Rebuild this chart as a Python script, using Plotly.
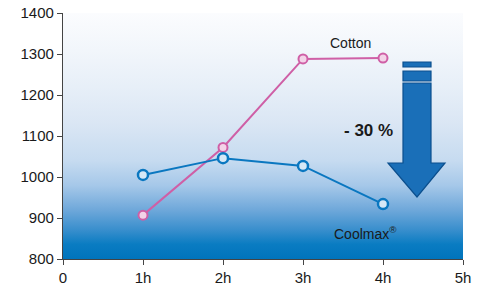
import plotly.graph_objects as go

hours = [1, 2, 3, 4]
cotton = [907, 1072, 1288, 1290]
coolmax = [1005, 1046, 1027, 934]
x_tickvals = [0, 1, 2, 3, 4, 5]
x_ticktext = ["0", "1h", "2h", "3h", "4h", "5h"]
y_tickvals = [800, 900, 1000, 1100, 1200, 1300, 1400]

fig = go.Figure()

# gradient background
fig.add_trace(go.Scatter(
    x=[0, 5, 5, 0, 0], y=[800, 800, 1400, 1400, 800],
    fill="toself", mode="none", hoverinfo="skip", showlegend=False,
    fillgradient=dict(type="vertical", colorscale=[
        [0.0, "#0074bc"], [0.06, "#0a7cc2"], [0.12, "#3a8fcd"], [0.2, "#6fa8da"],
        [0.3, "#a6c8e9"], [0.4, "#c6dbf0"], [0.55, "#dae6f4"], [0.7, "#e7eff8"],
        [0.85, "#f2f6fb"], [1.0, "#fbfcfe"]]),
))

fig.add_trace(go.Scatter(
    x=hours, y=cotton, mode="lines+markers", showlegend=False,
    line=dict(color="#cf5fa6", width=2),
    marker=dict(size=9, color="#f3d3e8", line=dict(color="#cf5fa6", width=2)),
))
fig.add_trace(go.Scatter(
    x=hours, y=coolmax, mode="lines+markers", showlegend=False,
    line=dict(color="#0a77c0", width=2),
    marker=dict(size=10, color="#d6e8f6", line=dict(color="#0a77c0", width=2.5)),
))

# arrow (data coordinates)
def px2x(p):
    return (p - 63) / 80.0

def py2y(p):
    return 1400 - (p - 13) / 0.41

arrow_fill = "#1a6fb8"
arrow_line = "#0b4f8e"
for (y0, y1) in [(62, 67), (71, 81)]:
    fig.add_shape(type="rect", x0=px2x(403), x1=px2x(431), y0=py2y(y1), y1=py2y(y0),
                  fillcolor=arrow_fill, line=dict(color=arrow_line, width=1.2))
pts = [(403, 83), (431, 83), (431, 163), (445, 163), (417, 197), (388, 163), (403, 163)]
path = "M " + " L ".join(f"{px2x(a)},{py2y(b)}" for a, b in pts) + " Z"
fig.add_shape(type="path", path=path, fillcolor=arrow_fill, line=dict(color=arrow_line, width=1.2))

fig.add_annotation(x=px2x(350), y=py2y(43), text="Cotton", showarrow=False,
                   font=dict(size=14, color="#1a1a1a", family="Liberation Sans"))
fig.add_annotation(x=px2x(368), y=py2y(130), text="<b>- 30 %</b>", showarrow=False,
                   font=dict(size=17, color="#1a1a1a", family="Liberation Sans"))
fig.add_annotation(x=px2x(365), y=py2y(233), text="Coolmax<sup>®</sup>", showarrow=False,
                   font=dict(size=14, color="#1a1a1a", family="Liberation Sans"))

fig.update_layout(
    width=487, height=290,
    margin=dict(l=63, r=24, t=13, b=31, autoexpand=False),
    paper_bgcolor="white", plot_bgcolor="white",
    font=dict(family="Liberation Sans", size=15, color="#1a1a1a"),
    xaxis=dict(range=[0, 5], tickvals=x_tickvals, ticktext=x_ticktext, automargin=False,
               showgrid=False, zeroline=False, showline=True, linecolor="#444444", linewidth=1.2,
               ticks="outside", ticklen=5, tickcolor="#444444"),
    yaxis=dict(range=[800, 1400], tickvals=y_tickvals, automargin=False,
               showgrid=False, zeroline=False, showline=True, linecolor="#444444", linewidth=1.2,
               ticks="outside", ticklen=5, tickcolor="#444444"),
)

fig.write_html("out.html", config={"displayModeBar": False},
               post_script="document.body.style.margin='0';document.body.style.overflow='hidden';")
